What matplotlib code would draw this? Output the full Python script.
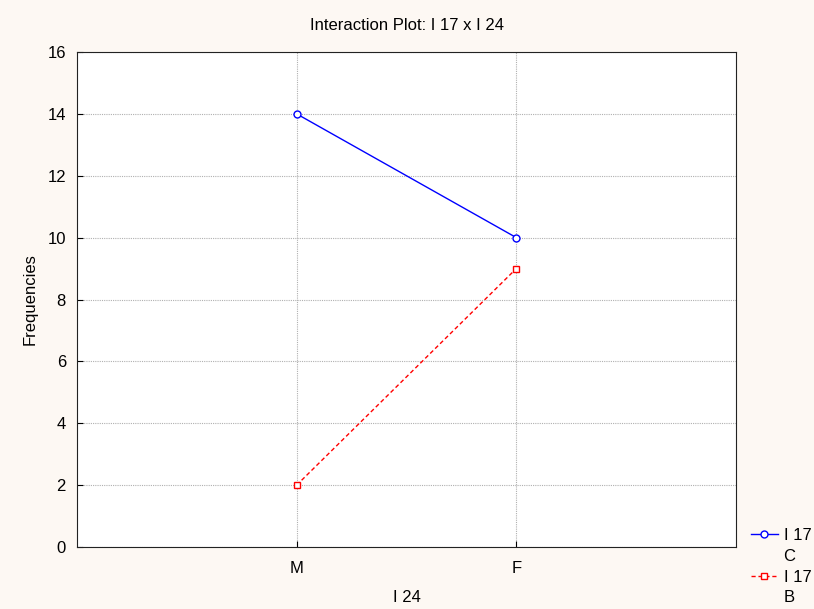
import matplotlib.pyplot as plt
from matplotlib.lines import Line2D

plt.rcParams['font.family'] = ['Liberation Sans', 'DejaVu Sans']

# ── DATA ──────────────────────────────────────────────────────────────────────
categories = ["M", "F"]
freq_c = [14, 10]
freq_b = [2, 9]
series_name = "I 17"
series_levels = ["C", "B"]

# ── PLOT ──────────────────────────────────────────────────────────────────────
bg = "#FDF8F3"
fig = plt.figure(figsize=(8.14, 6.09), dpi=100, facecolor=bg)
ax = fig.add_axes([77 / 814, 1 - 547 / 609, 659 / 814, 495 / 609])
ax.set_facecolor("white")

x = [1, 2]
ax.plot(x, freq_c, color="blue", lw=1, marker="o", ms=5, mfc="white",
        mec="blue")
ax.plot(x, freq_b, color="red", lw=1, ls=(0, (3, 2)), marker="s", ms=5,
        mfc="white", mec="red")

ax.set_xlim(0, 3)
ax.set_ylim(0, 16)
ax.set_xticks(x)
ax.set_xticklabels(categories)
ax.set_yticks(range(0, 17, 2))
ax.tick_params(axis="y", direction="in", labelsize=12, length=4, pad=8)
ax.tick_params(axis="x", direction="in", labelsize=12, length=4, pad=10)
ax.grid(True, color="#B0B0B0", ls=(0, (1, 1)), lw=0.8)
for s in ax.spines.values():
    s.set_color("#222222")

ax.set_xlabel("I 24", fontsize=12, labelpad=10)
ax.set_ylabel("Frequencies", fontsize=12, labelpad=7)
ax.set_title("Interaction Plot: I 17 x I 24", fontsize=12, pad=16)

# legend: series name on first line with marker, level below
blank = Line2D([], [], color="none")
h_c = Line2D([], [], color="blue", lw=1, marker="o", ms=5, mfc="white", mec="blue")
h_b = Line2D([], [], color="red", lw=1, ls=(0, (3, 2)), marker="s", ms=5,
             mfc="white", mec="red")
fig.legend([h_c, blank, h_b, blank],
           [series_name, series_levels[0], series_name, series_levels[1]],
           loc="upper left", bbox_to_anchor=(751 / 814, 1 - 528 / 609),
           frameon=False, fontsize=12, handlelength=1.6, labelspacing=0.35,
           handletextpad=0.35, borderaxespad=0, borderpad=0)

fig.savefig("out.png", dpi=100, facecolor=bg)
